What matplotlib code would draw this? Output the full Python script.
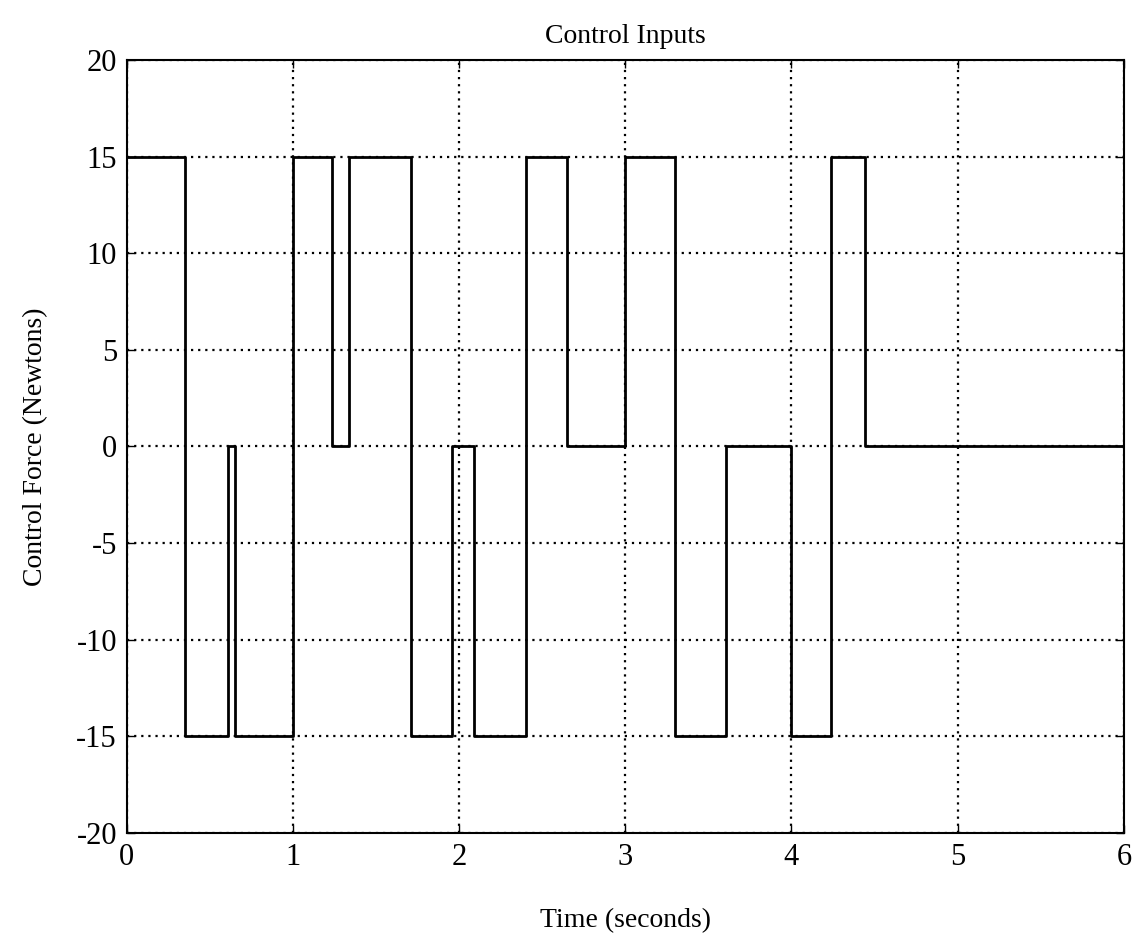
import matplotlib.pyplot as plt

# switching times (s) and the force held from each time until the next
switch_times = [0, 0.35, 0.61, 0.65, 1.0, 1.235, 1.34, 1.71, 1.96, 2.09,
                2.40, 2.65, 3.0, 3.30, 3.605, 4.0, 4.24, 4.44, 6.0]
force_levels = [15, -15, 0, -15, 15, 0, 15, -15, 0, -15,
                15, 0, 15, -15, 0, -15, 15, 0]
x_ticks = [0, 1, 2, 3, 4, 5, 6]
y_ticks = [-20, -15, -10, -5, 0, 5, 10, 15, 20]

plt.rcParams["font.family"] = ["Liberation Serif", "DejaVu Serif"]
plt.rcParams["axes.unicode_minus"] = False

fig = plt.figure(figsize=(11.41, 9.39), dpi=100)
ax = fig.add_axes([0.111, 0.113, 0.874, 0.823])

ax.step(switch_times, force_levels + [force_levels[-1]], where="post",
        color="black", linewidth=2)

ax.set_xlim(0, 6)
ax.set_ylim(-20, 20)
ax.set_xticks(x_ticks)
ax.set_yticks(y_ticks)
ax.grid(True, color="black", linestyle=(0, (1, 2.2)), linewidth=1.6)
ax.tick_params(direction="in", top=True, right=True, length=6, width=1,
               labelsize=22, pad=7)
for spine in ax.spines.values():
    spine.set_linewidth(1.5)

ax.set_title("Control Inputs", fontsize=20, pad=12)
ax.set_xlabel("Time (seconds)", fontsize=20, labelpad=26)
ax.set_ylabel("Control Force (Newtons)", fontsize=20, labelpad=20)

plt.savefig("out.png", dpi=100)
